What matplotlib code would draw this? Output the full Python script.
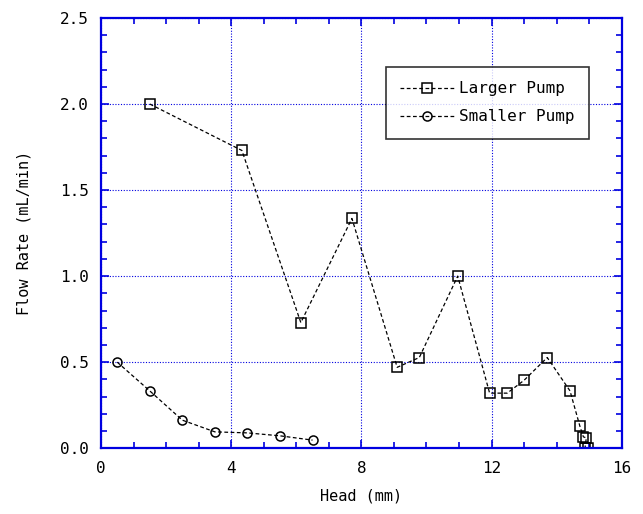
import numpy as np
import matplotlib
matplotlib.use("Agg")
import matplotlib.pyplot as plt
from matplotlib.ticker import MultipleLocator, FormatStrFormatter

# larger pump: head (mm) vs flow rate (mL/min)
large_head = [1.5, 4.33, 6.14, 7.71, 9.1, 9.78, 10.96, 11.94, 12.48, 13.0, 13.71,
              14.41, 14.71, 14.82, 14.91, 14.87, 14.96]
large_flow = [2.0, 1.73, 0.73, 1.335, 0.47, 0.527, 1.0, 0.32, 0.32, 0.395, 0.527,
              0.333, 0.13, 0.066, 0.06, 0.0, 0.0]

# smaller pump
small_head = [0.5, 1.5, 2.5, 3.5, 4.5, 5.5, 6.5]
small_flow = [0.5, 0.333, 0.163, 0.095, 0.089, 0.072, 0.047]

blue = "#0000e0"
font = "DejaVu Sans Mono"

fig = plt.figure(figsize=(6.43, 5.14), dpi=100)
ax = fig.add_axes([0.157, 0.128, 0.810, 0.837])

ax.plot(large_head, large_flow, color="black", lw=0.9, ls=(0, (3, 2)),
        marker="s", ms=6.5, mfc="none", mec="black", mew=1.1, label="Larger Pump")
ax.plot(small_head, small_flow, color="black", lw=0.9, ls=(0, (3, 2)),
        marker="o", ms=6.5, mfc="none", mec="black", mew=1.1, label="Smaller Pump")

ax.set_xlim(0, 16)
ax.set_ylim(0, 2.5)
ax.xaxis.set_major_locator(MultipleLocator(4))
ax.xaxis.set_minor_locator(MultipleLocator(1))
ax.yaxis.set_major_locator(MultipleLocator(0.5))
ax.yaxis.set_minor_locator(MultipleLocator(0.1))
ax.yaxis.set_major_formatter(FormatStrFormatter("%.1f"))

for s in ax.spines.values():
    s.set_color(blue)
    s.set_linewidth(1.6)
ax.tick_params(which="both", direction="in", top=True, right=True, color=blue,
               width=1.2, labelsize=11.5)
ax.tick_params(axis="x", pad=9)
ax.tick_params(axis="y", pad=9)
ax.tick_params(which="major", length=6)
ax.tick_params(which="minor", length=4.5)
for lab in ax.get_xticklabels() + ax.get_yticklabels():
    lab.set_fontfamily(font)

ax.grid(True, which="major", color=blue, ls=(0, (1, 1.5)), lw=0.8)
ax.set_axisbelow(True)

ax.set_xlabel("Head (mm)", fontsize=11, fontfamily=font, labelpad=9)
ax.set_ylabel("Flow Rate (mL/min)", fontsize=11, fontfamily=font, labelpad=20)

leg = ax.legend(loc="upper right", bbox_to_anchor=(0.937, 0.886), frameon=True,
                fancybox=False, edgecolor="black", handlelength=3.4,
                prop={"family": font, "size": 11.5}, borderpad=0.9,
                labelspacing=0.8, handletextpad=0.3, borderaxespad=0)
leg.get_frame().set_linewidth(1.2)

fig.savefig("out.png", dpi=100)
